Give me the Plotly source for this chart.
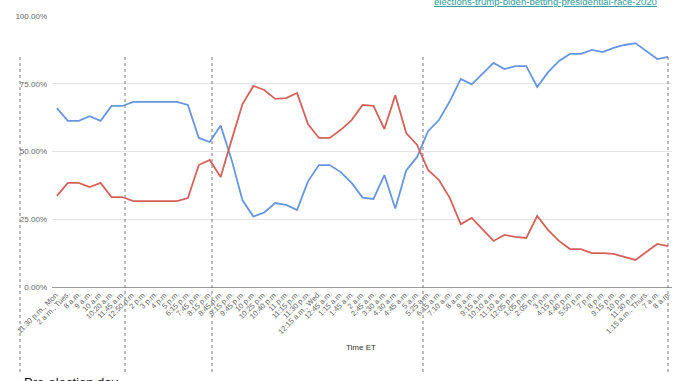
import plotly.graph_objects as go

times = ["11:30 p.m., Mon.", "2 a.m., Tues.", "8 a.m.", "9 a.m.", "10 a.m.", "10:20 a.m.",
         "11:45 a.m.", "12:50 p.m.", "2 p.m.", "3 p.m.", "4 p.m.", "5 p.m.", "6:15 p.m.",
         "7:45 p.m.", "8:15 p.m.", "8:45 p.m.", "9:15 p.m.", "9:45 p.m.", "10 p.m.",
         "10:25 p.m.", "10:40 p.m.", "11 p.m.", "11:15 p.m.", "11:30 p.m.",
         "12:15 a.m., Wed.", "12:45 a.m.", "1:15 a.m.", "1:45 a.m.", "2 a.m.", "2:45 a.m.",
         "3:30 a.m.", "4:30 a.m.", "4:45 a.m.", "5 a.m.", "5:25 a.m.", "6:15 a.m.",
         "7:10 a.m.", "8 a.m.", "9 a.m.", "9:15 a.m.", "10:10 a.m.", "11:10 a.m.",
         "12:05 p.m.", "1:05 p.m.", "2:05 p.m.", "3 p.m.", "4:15 p.m.", "4:40 p.m.",
         "5:50 p.m.", "7 p.m.", "8 p.m.", "9:15 p.m.", "10 p.m.", "11:30 p.m.",
         "1:15 a.m., Thurs.", "7 a.m.", "8 a.m."]

biden = [66.0, 61.3, 61.3, 63.0, 61.3, 66.8, 66.8, 68.3, 68.3, 68.3, 68.3, 68.3, 67.2,
         55.0, 53.5, 59.6, 47.0, 32.0, 26.0, 27.5, 31.0, 30.3, 28.4, 39.0, 45.0, 45.0,
         42.4, 38.4, 33.0, 32.5, 41.3, 29.0, 43.0, 48.0, 57.5, 61.6, 68.6, 76.8, 74.8,
         78.6, 82.7, 80.4, 81.5, 81.5, 73.8, 79.3, 83.4, 86.0, 86.0, 87.5, 86.7, 88.2,
         89.3, 90.0, 87.1, 84.1, 84.9]

trump = [33.6, 38.4, 38.4, 36.9, 38.4, 33.2, 33.2, 31.7, 31.7, 31.7, 31.7, 31.7, 32.8,
         45.0, 46.9, 40.6, 54.2, 67.5, 74.2, 72.7, 69.4, 69.7, 71.6, 60.1, 55.0, 55.0,
         58.0, 61.6, 67.2, 66.8, 58.3, 70.8, 56.8, 52.4, 43.2, 39.5, 32.8, 23.2, 25.5,
         21.4, 17.0, 19.2, 18.5, 18.1, 26.2, 21.0, 17.0, 14.0, 14.0, 12.5, 12.5, 12.2,
         11.0, 10.0, 12.9, 15.9, 15.1]

y_ticks = [0, 0.25, 0.5, 0.75, 1.0]
divider_px = [20, 125, 212, 423, 668]

W, H = 678, 381
ML, MR, MT, MB = 52, 6, 16, 94
pw, ph = W - ML - MR, H - MT - MB

def px_x(p):
    return (p - ML) / pw

def px_y(p):
    return (H - MB - p) / ph

idx = list(range(len(times)))

fig = go.Figure()
fig.add_trace(go.Scatter(x=idx, y=[v / 100 for v in biden], mode="lines",
                         line=dict(color="#6895e0", width=1.8), name="Biden"))
fig.add_trace(go.Scatter(x=idx, y=[v / 100 for v in trump], mode="lines",
                         line=dict(color="#d5625a", width=1.8), name="Trump"))

shapes = []
for p in divider_px:
    shapes.append(dict(type="line", xref="paper", yref="paper",
                       x0=px_x(p), x1=px_x(p), y0=px_y(57), y1=px_y(373),
                       line=dict(color="#7a7a7a", width=1, dash="3px,3px")))

fig.update_layout(
    width=W, height=H,
    margin=dict(l=ML, r=MR, t=MT, b=MB),
    paper_bgcolor="white", plot_bgcolor="white",
    showlegend=False,
    font=dict(family="Liberation Sans, Arial, sans-serif"),
    shapes=shapes,
    xaxis=dict(tickmode="array", tickvals=idx, ticktext=times, tickangle=-45,
               range=[-0.45, 56.35],
               tickfont=dict(size=7.5, color="#666666"), showgrid=False, zeroline=False,
               ticks="", showline=False, automargin=False),
    yaxis=dict(range=[0, 1], tickvals=y_ticks, tickformat=".2%",
               tickfont=dict(size=8, color="#666666"), gridcolor="#e4e4e4",
               zeroline=True, zerolinecolor="#9a9a9a", zerolinewidth=1,
               ticks="", showline=False, automargin=False, ticklabelstandoff=4),
    annotations=[
        dict(xref="paper", yref="paper", x=px_x(432), y=px_y(1), xanchor="left",
             yanchor="middle", showarrow=False,
             text='<span style="text-decoration:underline">elections-trump-biden-betting-presidential-race-2020</span>',
             font=dict(size=9.6, color="#2c9c9a")),
        dict(xref="paper", yref="paper", x=px_x(22), y=px_y(373), xanchor="left",
             yanchor="top", showarrow=False, text="Pre-election day",
             font=dict(size=13, color="#111111")),
        dict(xref="paper", yref="paper", x=px_x(361), y=px_y(347), xanchor="center",
             yanchor="middle", showarrow=False, text="Time ET",
             font=dict(size=8, color="#333333")),
    ],
)

fig.write_html("out.html", config={"displayModeBar": False},
               post_script="document.body.style.margin='0';")
